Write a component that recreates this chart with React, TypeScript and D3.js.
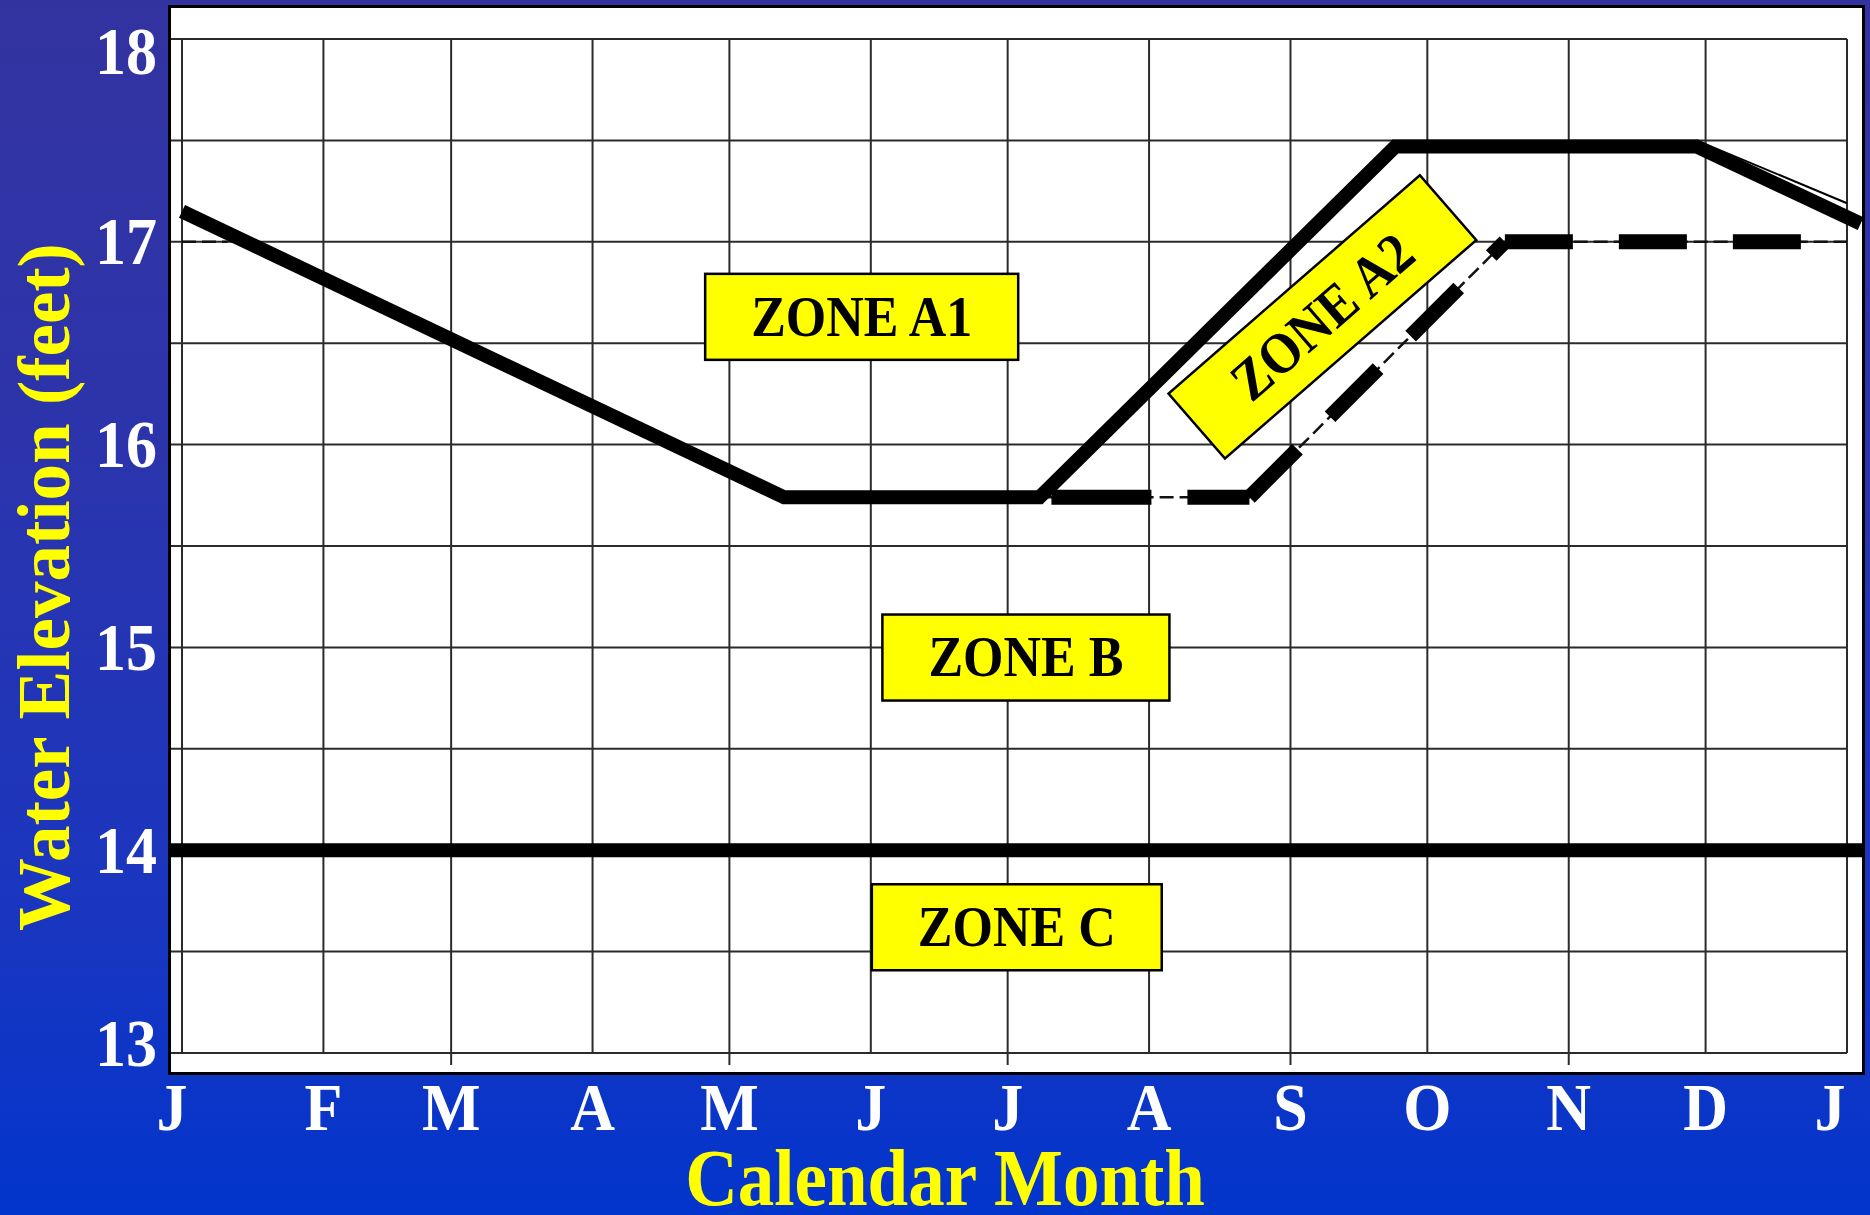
import React, { useEffect, useRef } from 'react';
import * as d3 from 'd3';

// month initials along the bottom (Jan .. Jan)
const monthLabels = ['J', 'F', 'M', 'A', 'M', 'J', 'J', 'A', 'S', 'O', 'N', 'D', 'J'];
const elevationTicks = [13, 14, 15, 16, 17, 18];

// Zone A1 / A2 boundary (thick solid)
const upperDates = ['2001-01-01', '2001-05-13', '2001-07-08', '2001-09-24', '2001-11-29', '2002-01-04'];
const upperValues = [17.15, 15.74, 15.74, 17.47, 17.47, 17.09];

// thin trace riding along the December drawdown
const traceDates = ['2001-11-29', '2002-01-01'];
const traceValues = [17.5, 17.19];

// Zone A2 / B boundary (thick dashed over thin dashed)
const lowerDates = ['2001-07-08', '2001-08-23', '2001-10-18', '2002-01-01'];
const lowerValues = [15.74, 15.74, 17.0, 17.0];

const lowerStubDates = ['2001-01-01', '2001-01-11'];
const lowerStubValues = [17.0, 17.0];

// Zone B / C boundary
const zoneCDates = ['2000-12-29', '2002-01-05'];
const zoneCValues = [14, 14];

// zone labels
const zoneNames = ['ZONE A1', 'ZONE A2', 'ZONE B', 'ZONE C'];
const zoneDates = ['2001-05-30', '2001-09-08', '2001-07-05', '2001-07-03'];
const zoneValues = [16.63, 16.63, 14.95, 13.62];
const zoneAngles = [0, -41, 0, 0];

const parse = d3.utcParse('%Y-%m-%d');
const toPoints = (dates, values) => dates.map((d, i) => ({ date: parse(d), value: values[i] }));

const SERIF = '"Liberation Serif", "Times New Roman", serif';

const App = () => {
  const svgRef = useRef();
  const width = 1870;
  const height = 1215;

  useEffect(() => {
    const svg = d3.select(svgRef.current);
    svg.selectAll('*').remove();

    const start = new Date(Date.UTC(2001, 0, 1));
    const end = new Date(Date.UTC(2002, 0, 1));
    const x = d3.scaleUtc().domain([start, end]).range([182, 1847]);
    const y = d3.scaleLinear().domain([13, 18]).range([1053, 39]);

    const defs = svg.append('defs');
    const grad = defs
      .append('linearGradient')
      .attr('id', 'bg')
      .attr('x1', 0)
      .attr('y1', 0)
      .attr('x2', 0)
      .attr('y2', 1);
    [
      [0, '#3333a0'],
      [0.35, '#2c34ab'],
      [0.75, '#1a36c0'],
      [1, '#0235cc'],
    ].forEach(([o, c]) => grad.append('stop').attr('offset', o).attr('stop-color', c));

    defs
      .append('clipPath')
      .attr('id', 'panel-clip')
      .append('rect')
      .attr('x', 171)
      .attr('y', 8)
      .attr('width', 1691)
      .attr('height', 1064);

    svg.append('rect').attr('width', width).attr('height', height).attr('fill', 'url(#bg)');

    // white plot panel
    svg
      .append('rect')
      .attr('x', 169.5)
      .attr('y', 6.5)
      .attr('width', 1694)
      .attr('height', 1067)
      .attr('fill', '#fff')
      .attr('stroke', '#000')
      .attr('stroke-width', 3);

    // grid
    const grid = svg.append('g').attr('stroke', '#2b2b2b').attr('stroke-width', 2);
    grid
      .selectAll('line.h')
      .data(d3.range(13, 18.01, 0.5))
      .join('line')
      .attr('class', 'h')
      .attr('x1', 171)
      .attr('x2', x(end))
      .attr('y1', (d) => y(d))
      .attr('y2', (d) => y(d));

    const months = d3.utcMonth.range(start, d3.utcDay.offset(end, 1));
    grid
      .selectAll('line.v')
      .data(months)
      .join('line')
      .attr('class', 'v')
      .attr('x1', (d) => x(d))
      .attr('x2', (d) => x(d))
      .attr('y1', y(18))
      .attr('y2', (d, i) => (i % 2 === 0 && i > 0 && i < 12 ? y(13) + 12 : y(13)));

    const line = d3
      .line()
      .x((d) => x(d.date))
      .y((d) => y(d.value));

    const marks = svg.append('g').attr('clip-path', 'url(#panel-clip)').attr('fill', 'none');

    // zone C boundary
    marks
      .append('path')
      .attr('d', line(toPoints(zoneCDates, zoneCValues)))
      .attr('stroke', '#000')
      .attr('stroke-width', 14);

    // lower (dashed) rule: thin dashed base
    const lower = toPoints(lowerDates, lowerValues);
    [lower, toPoints(lowerStubDates, lowerStubValues)].forEach((pts) =>
      marks
        .append('path')
        .attr('d', line(pts))
        .attr('stroke', '#111')
        .attr('stroke-width', 2.5)
        .attr('stroke-dasharray', '14 6')
    );
    // thick dashes, restarting at every vertex
    d3.pairs(lower).forEach(([a, b], i) => {
      marks
        .append('path')
        .attr('d', line(i === 0 ? [b, a] : [a, b]))
        .attr('stroke', '#000')
        .attr('stroke-width', 15)
        .attr('stroke-dasharray', i === 0 ? '62 36 100 200' : '68 46');
    });

    // upper rule
    marks
      .append('path')
      .attr('d', line(toPoints(upperDates, upperValues)))
      .attr('stroke', '#000')
      .attr('stroke-width', 14)
      .attr('stroke-linejoin', 'miter');
    marks
      .append('path')
      .attr('d', line(toPoints(traceDates, traceValues)))
      .attr('stroke', '#000')
      .attr('stroke-width', 2);

    // zone labels
    zoneNames.forEach((name, i) => {
      const g = svg
        .append('g')
        .attr('transform', `translate(${x(parse(zoneDates[i]))},${y(zoneValues[i])}) rotate(${zoneAngles[i]})`);
      const box = g.append('rect').attr('fill', '#ffff00').attr('stroke', '#000').attr('stroke-width', 2.5);
      const t = g
        .append('g')
        .attr('transform', 'scale(1,1.1)')
        .append('text')
        .attr('text-anchor', 'middle')
        .attr('dy', '0.33em')
        .attr('font-family', SERIF)
        .attr('font-weight', 'bold')
        .attr('font-size', 52)
        .attr('fill', '#000')
        .text(name);
      const pad = zoneAngles[i] ? 56 : 46;
      const w = t.node().getComputedTextLength() + pad * 2;
      box.attr('x', -w / 2).attr('y', -43).attr('width', w).attr('height', 86);
    });

    // y tick labels
    elevationTicks.forEach((v) => {
      const cy = Math.min(Math.max(y(v), y(18) + 12), y(13) - 10);
      svg
        .append('g')
        .attr('transform', `translate(157,${cy}) scale(1,1.1)`)
        .append('text')
        .attr('text-anchor', 'end')
        .attr('dy', '0.33em')
        .attr('font-family', SERIF)
        .attr('font-weight', 'bold')
        .attr('font-size', 62)
        .attr('fill', '#fff')
        .text(v);
    });

    // x tick labels (end labels sit a little inside the frame)
    months.forEach((m, i) => {
      const lx = i === 0 ? x(m) - 10 : i === months.length - 1 ? x(m) - 17 : x(m);
      svg
        .append('g')
        .attr('transform', `translate(${lx},1130) scale(1,1.1)`)
        .append('text')
        .attr('text-anchor', 'middle')
        .attr('font-family', SERIF)
        .attr('font-weight', 'bold')
        .attr('font-size', 62)
        .attr('fill', '#fff')
        .text(monthLabels[i]);
    });

    // axis titles
    svg
      .append('g')
      .attr('transform', 'translate(945,1205) scale(1,1.1)')
      .append('text')
      .attr('text-anchor', 'middle')
      .attr('font-family', SERIF)
      .attr('font-weight', 'bold')
      .attr('font-size', 73)
      .attr('fill', '#ffff00')
      .text('Calendar Month');

    svg
      .append('text')
      .attr('transform', 'translate(69,587) rotate(-90)')
      .attr('text-anchor', 'middle')
      .attr('font-family', SERIF)
      .attr('font-weight', 'bold')
      .attr('font-size', 73)
      .attr('fill', '#ffff00')
      .text('Water Elevation (feet)');
  }, []);

  return (
    <svg
      ref={svgRef}
      width={width}
      height={height}
      style={{ position: 'absolute', left: 0, top: 0, display: 'block' }}
    />
  );
};

export default App;
